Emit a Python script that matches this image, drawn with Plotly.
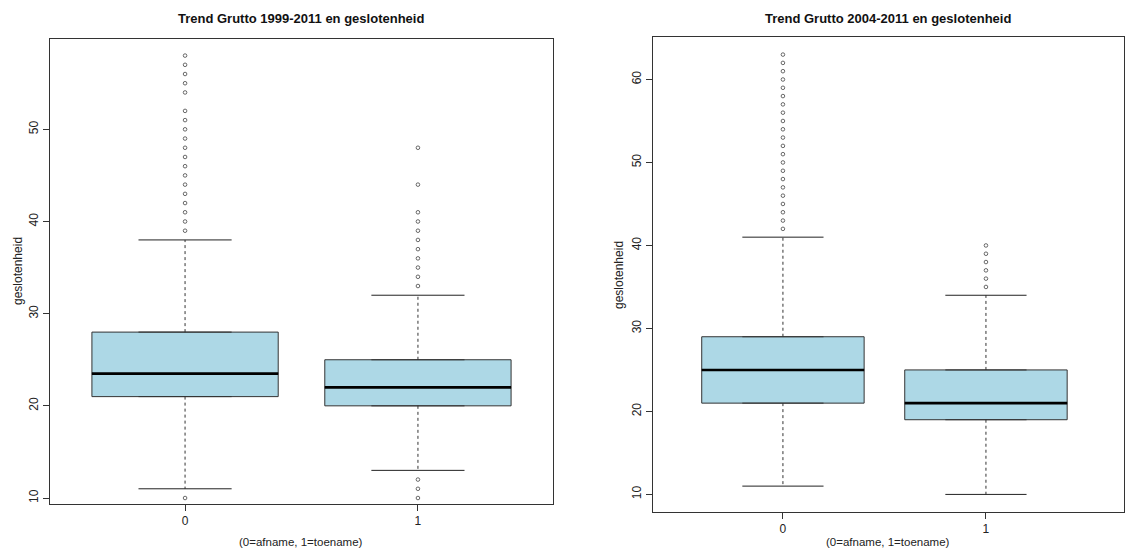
import plotly.graph_objects as go

# ---------------- data ----------------
groups = [0, 1]
tick_labels = ["0", "1"]

# left panel: Trend Grutto 1999-2011
left_lower = [11, 13]
left_q1 = [21, 20]
left_median = [23.5, 22]
left_q3 = [28, 25]
left_upper = [38, 32]
left_out_0 = [10, 39, 40, 41, 42, 43, 44, 45, 46, 47, 48, 49, 50, 51, 52, 54, 55, 56, 57, 58]
left_out_1 = [10, 11, 12, 33, 34, 35, 36, 37, 38, 39, 40, 41, 44, 48]

# right panel: Trend Grutto 2004-2011
right_lower = [11, 10]
right_q1 = [21, 19]
right_median = [25, 21]
right_q3 = [29, 25]
right_upper = [41, 34]
right_out_0 = [42, 43, 44, 45, 46, 47, 48, 49, 50, 51, 52, 53, 54, 55, 56, 57, 58, 59, 60, 61, 62, 63]
right_out_1 = [35, 36, 37, 38, 39, 40]

left_yticks = [10, 20, 30, 40, 50]
right_yticks = [10, 20, 30, 40, 50, 60]

title_left = "Trend Grutto 1999-2011 en geslotenheid"
title_right = "Trend Grutto 2004-2011 en geslotenheid"
xlab = "(0=afname, 1=toename)"
ylab = "geslotenheid"

FONT = "Liberation Sans, Arial, sans-serif"
FILL = "#ADD8E6"
EDGE = "#333333"

# page is 1141x558, the html body has an 8px margin
OFF = 8
W, H = 1141 - 2 * OFF, 558 - 2 * OFF


def fx(px):
    return (px - OFF) / W


def fy(py):
    return 1 - (py - OFF) / H


fig = go.Figure()


def add_panel(xa, ya, lower, q1, med, q3, upper, outs):
    fig.add_trace(go.Box(
        x=groups, q1=q1, median=med, q3=q3, lowerfence=q1, upperfence=q3,
        width=0.8, fillcolor=FILL, line=dict(color=EDGE, width=1),
        boxpoints=False, showlegend=False, hoverinfo="skip",
        xaxis=xa, yaxis=ya))
    for i, g in enumerate(groups):
        fig.add_trace(go.Scatter(
            x=[g - 0.4, g + 0.4], y=[med[i], med[i]], mode="lines",
            line=dict(color="black", width=2.6), showlegend=False,
            hoverinfo="skip", xaxis=xa, yaxis=ya))
        fig.add_trace(go.Scatter(
            x=[g, g, None, g, g], y=[q3[i], upper[i], None, q1[i], lower[i]],
            mode="lines", line=dict(color="#333333", width=1, dash="3px,3px"),
            showlegend=False, hoverinfo="skip", xaxis=xa, yaxis=ya))
        fig.add_trace(go.Scatter(
            x=[g - 0.2, g + 0.2, None, g - 0.2, g + 0.2],
            y=[upper[i], upper[i], None, lower[i], lower[i]],
            mode="lines", line=dict(color="#222222", width=1),
            showlegend=False, hoverinfo="skip", xaxis=xa, yaxis=ya))
        fig.add_trace(go.Scatter(
            x=[g] * len(outs[i]), y=outs[i], mode="markers",
            marker=dict(symbol="circle-open", size=3.6, color="#444444",
                        line=dict(width=0.8)),
            showlegend=False, hoverinfo="skip", xaxis=xa, yaxis=ya))


add_panel("x", "y", left_lower, left_q1, left_median, left_q3, left_upper,
          [left_out_0, left_out_1])
add_panel("x2", "y2", right_lower, right_q1, right_median, right_q3, right_upper,
          [right_out_0, right_out_1])

axis_common = dict(showline=True, mirror=True, linecolor=EDGE, linewidth=1,
                   ticks="outside", ticklen=6, tickcolor=EDGE, showgrid=False,
                   zeroline=False, tickfont=dict(family=FONT, size=12, color="#222"))

fig.update_layout(
    width=W, height=H, autosize=False,
    margin=dict(l=0, r=0, t=0, b=0),
    paper_bgcolor="white", plot_bgcolor="white",
    font=dict(family=FONT, size=12, color="#222"),
    showlegend=False,
    xaxis=dict(domain=[fx(50), fx(553)], range=[-0.58, 1.58],
               tickvals=groups, ticktext=tick_labels, anchor="y", **axis_common),
    yaxis=dict(domain=[fy(504), fy(39)], range=[9.35, 59.8],
               tickvals=left_yticks, tickangle=-90, anchor="x", **axis_common),
    xaxis2=dict(domain=[fx(653), fx(1124)], range=[-0.64, 1.68],
                tickvals=groups, ticktext=tick_labels, anchor="y2", **axis_common),
    yaxis2=dict(domain=[fy(512), fy(37)], range=[7.88, 65.12],
                tickvals=right_yticks, tickangle=-90, anchor="x2", **axis_common),
)

ann = []
for title, cx in [(title_left, 301), (title_right, 888)]:
    ann.append(dict(text="<b>" + title + "</b>", x=fx(cx), y=fy(19),
                    xref="paper", yref="paper", showarrow=False,
                    xanchor="center", yanchor="middle",
                    font=dict(family=FONT, size=13, color="#111")))
for cx in [301, 888]:
    ann.append(dict(text=xlab, x=fx(cx), y=0, xref="paper", yref="paper",
                    showarrow=False, xanchor="center", yanchor="bottom",
                    font=dict(family=FONT, size=11.5, color="#222")))
for cx, cy in [(18, 271), (619, 275)]:
    ann.append(dict(text=ylab, x=fx(cx), y=fy(cy), xref="paper", yref="paper",
                    showarrow=False, xanchor="center", yanchor="middle", textangle=-90,
                    font=dict(family=FONT, size=12, color="#222")))
fig.update_layout(annotations=ann)

fig.write_html("out.html")
